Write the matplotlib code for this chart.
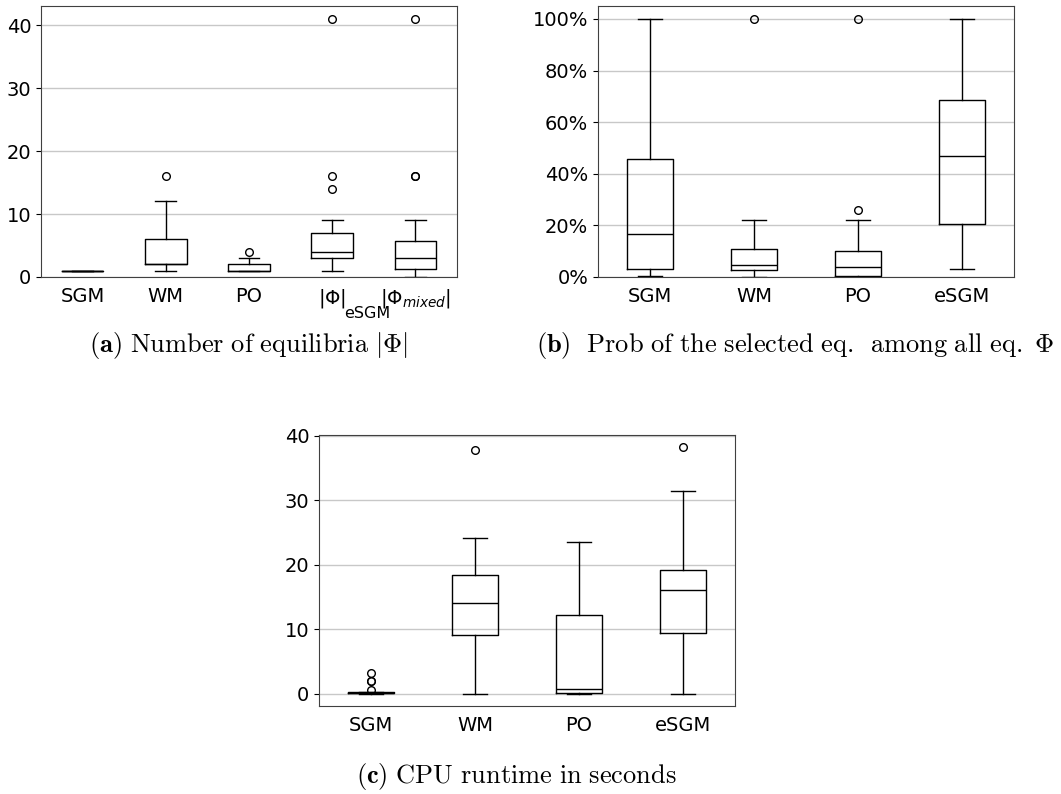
import matplotlib
matplotlib.use('Agg')
import matplotlib.pyplot as plt
from matplotlib.ticker import PercentFormatter

W, H = 1061, 794

# (a) number of equilibria
a_labels = ['SGM', 'WM', 'PO', r'$|\Phi|$', r'$|\Phi_{mixed}|$']
a_whislo = [1, 1, 1, 1, 0]
a_q1 = [1, 2, 1, 3, 1.25]
a_med = [1, 2, 1, 4, 3]
a_q3 = [1, 6, 2, 7, 5.75]
a_whishi = [1, 12, 3, 9, 9]
a_fliers = [[], [16], [4], [14, 16, 41], [16, 16, 41]]

# (b) prob of selected eq (fractions)
b_labels = ['SGM', 'WM', 'PO', 'eSGM']
b_whislo = [0.004, 0.0015, 0.0, 0.031]
b_q1 = [0.030, 0.029, 0.002, 0.206]
b_med = [0.168, 0.048, 0.039, 0.467]
b_q3 = [0.458, 0.107, 0.101, 0.687]
b_whishi = [1.0, 0.22, 0.22, 1.0]
b_fliers = [[], [1.0], [0.258, 1.0], []]

# (c) cpu runtime in seconds
c_labels = ['SGM', 'WM', 'PO', 'eSGM']
c_whislo = [0.0, 0.0, 0.0, 0.0]
c_q1 = [0.05, 9.06, 0.15, 9.37]
c_med = [0.1, 14.1, 0.67, 16.1]
c_q3 = [0.2, 18.4, 12.2, 19.15]
c_whishi = [0.3, 24.2, 23.55, 31.4]
c_fliers = [[0.55, 1.9, 2.0, 3.2], [37.8], [], [38.3]]


def stats(labels, lo, q1, med, q3, hi, fl):
    return [dict(label=l, whislo=a, q1=b, med=c, q3=d, whishi=e, fliers=f)
            for l, a, b, c, d, e, f in zip(labels, lo, q1, med, q3, hi, fl)]


def draw(ax, st):
    lp = dict(color='black', linewidth=1.0)
    ax.bxp(st, boxprops=lp, whiskerprops=lp, capprops=lp, medianprops=lp,
           flierprops=dict(marker='o', markerfacecolor='none',
                           markeredgecolor='black', markersize=5.5,
                           markeredgewidth=1.0))
    ax.yaxis.grid(True, color='#c8c8c8', linewidth=1.0)
    ax.set_axisbelow(True)
    for s in ax.spines.values():
        s.set_color('#404040')
    ax.tick_params(axis='x', length=0, pad=7, labelsize=14)
    ax.tick_params(axis='y', labelsize=14)


def axes_px(fig, left, top, right, bottom):
    return fig.add_axes([left / W, 1 - bottom / H, (right - left) / W, (bottom - top) / H])


fig = plt.figure(figsize=(W / 100, H / 100), dpi=100)

ax1 = axes_px(fig, 41, 6, 457, 277)
draw(ax1, stats(a_labels, a_whislo, a_q1, a_med, a_q3, a_whishi, a_fliers))
ax1.set_ylim(0, 43.05)
ax1.set_yticks([0, 10, 20, 30, 40])
# the subscript of |Phi| hangs below, between the last two labels
ax1.annotate('eSGM', xy=(4, 0), xycoords=('data', 'axes fraction'),
             xytext=(12, -29), textcoords='offset pixels',
             ha='left', va='top', fontsize=11.5)

ax2 = axes_px(fig, 598, 6, 1014, 277)
draw(ax2, stats(b_labels, b_whislo, b_q1, b_med, b_q3, b_whishi, b_fliers))
ax2.set_ylim(0, 1.05)
ax2.set_yticks([0, 0.2, 0.4, 0.6, 0.8, 1.0])
ax2.yaxis.set_major_formatter(PercentFormatter(1.0, decimals=0))

ax3 = axes_px(fig, 319, 435, 735, 706)
draw(ax3, stats(c_labels, c_whislo, c_q1, c_med, c_q3, c_whishi, c_fliers))
ax3.set_ylim(-1.9, 40.1)
ax3.set_yticks([0, 10, 20, 30, 40])

cap = dict(ha='center', va='baseline', fontsize=19, math_fontfamily='cm')
fig.text(248 / W, 1 - 352 / H,
         r'$\mathbf{(a)}\ \mathrm{Number\ of\ equilibria}\ |\Phi|$', **cap)
fig.text(795 / W, 1 - 352 / H,
         r'$\mathbf{(b)}\ \ \mathrm{Prob\ of\ the\ selected\ eq.\ \,among\ all\ eq.}\ \Phi$', **cap)
fig.text(516 / W, 1 - 783 / H,
         r'$\mathbf{(c)}\ \mathrm{CPU\ runtime\ in\ seconds}$', **cap)

plt.savefig('out.png', dpi=100)
